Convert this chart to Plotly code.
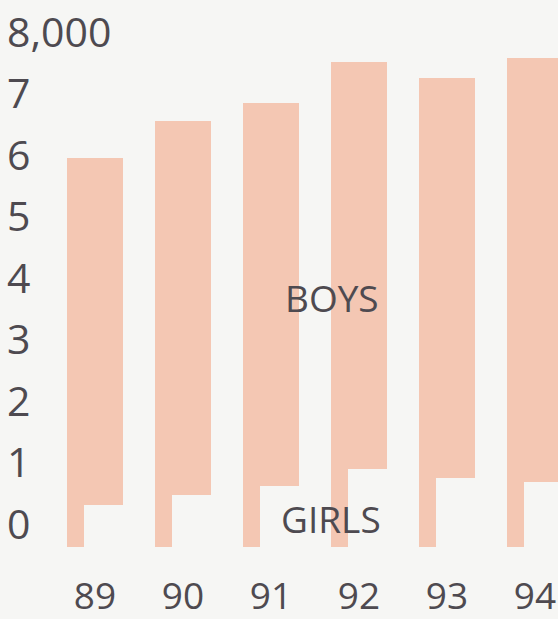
import plotly.graph_objects as go

# Annual counts, 1989-1994
years = ["89", "90", "91", "92", "93", "94"]
girls = [680, 850, 990, 1270, 1120, 1060]
boys = [5650, 6080, 6230, 6620, 6510, 6890]

y_tickvals = [0, 1000, 2000, 3000, 4000, 5000, 6000, 7000, 8000]
y_ticktext = ["0", "1", "2", "3", "4", "5", "6", "7", "8,000"]

BAR = "#f4c7b3"
INK = "#4e4a50"
BG = "#f6f6f4"
FONT = "Open Sans"

xs = list(range(len(years)))

fig = go.Figure()

# Girls: narrow strip from zero, flush with the left edge of each column
fig.add_trace(go.Bar(
    x=xs, y=girls, base=0,
    width=0.19, offset=-0.32,
    marker=dict(color=BAR, line=dict(width=0)),
    name="Girls", hoverinfo="x+y",
))

# Boys: wide column sitting on top of the girls' count
fig.add_trace(go.Bar(
    x=xs, y=boys, base=girls,
    width=0.64, offset=-0.32,
    marker=dict(color=BAR, line=dict(width=0)),
    name="Boys", hoverinfo="x+y",
))

fig.add_annotation(x=2.69, y=4050, xref="x", yref="y", text="BOYS",
                   showarrow=False, font=dict(family=FONT, size=37, color=INK))
fig.add_annotation(x=2.68, y=470, xref="x", yref="y", text="GIRLS",
                   showarrow=False, font=dict(family=FONT, size=37, color=INK))

fig.update_layout(
    width=558, height=619,
    margin=dict(l=4, r=0, t=6, b=72, autoexpand=False),
    paper_bgcolor=BG, plot_bgcolor=BG,
    barmode="overlay", bargap=0,
    showlegend=False,
    font=dict(family=FONT, color=INK),
)

fig.update_xaxes(
    range=[-1.034, 5.261],
    tickvals=xs, ticktext=years,
    showgrid=False, zeroline=False, showline=False,
    ticks="", ticklabelstandoff=24, automargin=False,
    ticklabeloverflow="allow",
    tickfont=dict(family=FONT, size=37, color=INK),
    fixedrange=True,
)

fig.update_yaxes(
    range=[0, 8797],
    tickvals=y_tickvals, ticktext=y_ticktext,
    ticklabelposition="inside top", ticklabelshift=6,
    ticklabeloverflow="allow",
    showgrid=False, zeroline=False, showline=False,
    ticks="", automargin=False,
    tickfont=dict(family=FONT, size=41, color=INK),
    fixedrange=True,
)

fig.write_html("out.html")
